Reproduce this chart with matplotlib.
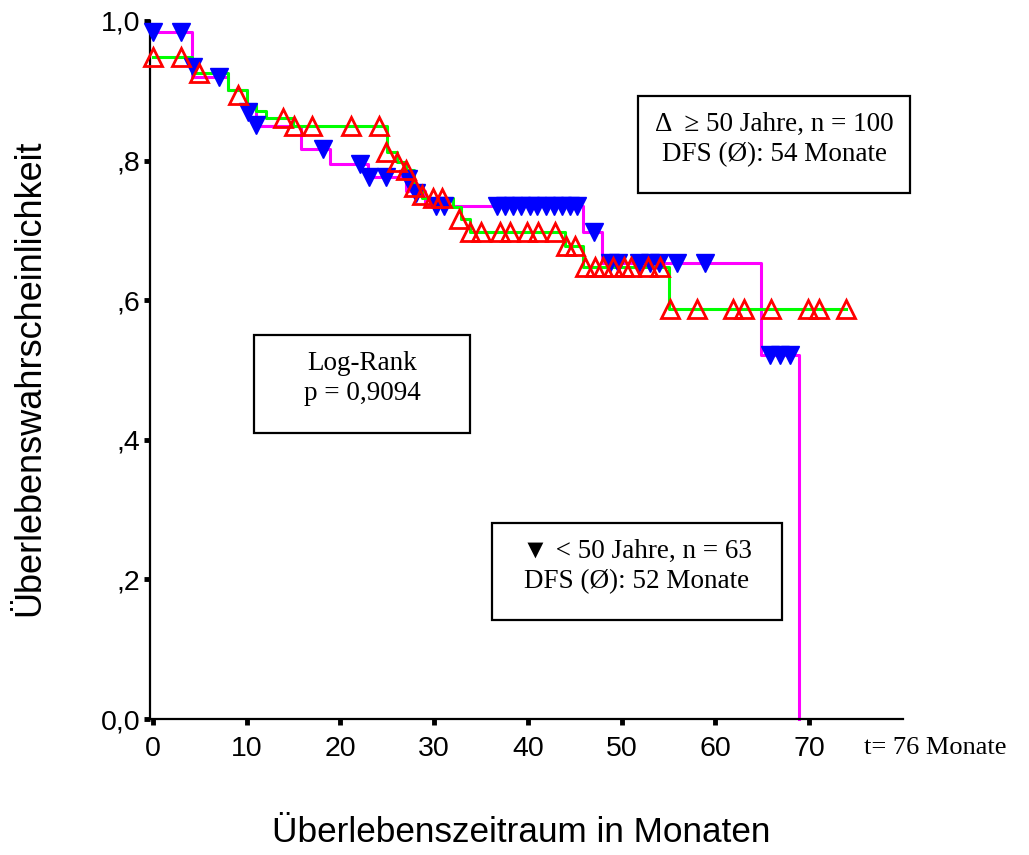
import matplotlib
matplotlib.use("Agg")
import matplotlib.pyplot as plt
from matplotlib.patches import Rectangle

# Kaplan-Meier steps, patients < 50 Jahre (n = 63)
young_t = [0, 4.2, 8.0, 10.0, 11.0, 15.8, 18.9, 23.0, 27.0, 29.0, 45.9, 47.9, 64.9, 68.9]
young_s = [0.984, 0.920, 0.901, 0.877, 0.849, 0.816, 0.795, 0.777, 0.757, 0.735, 0.698, 0.653, 0.522, 0.0]
# censored cases
young_ct = [0, 3.0, 4.3, 7.1, 10.1, 11.0, 18.1, 22.1, 23.1, 24.9, 27.2, 28.1, 30.2, 31.0,
            36.7, 37.6, 38.4, 39.3, 40.2, 41.0, 41.9, 42.8, 43.6, 44.5, 45.2,
            47.1, 48.8, 49.6, 51.9, 53.0, 54.0, 55.9, 58.9, 65.8, 66.9, 67.9]
young_cs = [0.984, 0.984, 0.934, 0.920, 0.870, 0.851, 0.816, 0.795, 0.777, 0.777, 0.774, 0.753, 0.735, 0.735,
            0.735, 0.735, 0.735, 0.735, 0.735, 0.735, 0.735, 0.735, 0.735, 0.735, 0.735,
            0.698, 0.653, 0.653, 0.653, 0.653, 0.653, 0.653, 0.653, 0.522, 0.522, 0.522]

# Kaplan-Meier steps, patients >= 50 Jahre (n = 100)
old_t = [0, 4.2, 8.0, 10.0, 11.0, 12.1, 14.9, 25.0, 26.0, 27.0, 27.9, 28.7, 32.0, 32.9, 33.8, 44.0, 45.9, 55.0, 73.9]
old_s = [0.949, 0.926, 0.901, 0.881, 0.871, 0.861, 0.850, 0.813, 0.798, 0.787, 0.762, 0.747, 0.733, 0.717, 0.698, 0.677, 0.648, 0.588, 0.588]
old_ct = [0, 3.0, 4.9, 9.1, 13.9, 15.1, 17.0, 21.1, 24.1, 24.9, 26.0, 27.0, 27.9, 28.7, 29.9, 30.8,
          32.7, 33.8, 35.0, 37.0, 38.1, 39.9, 41.1, 42.9, 44.1, 45.0,
          46.1, 47.2, 48.0, 49.1, 50.2, 51.0, 52.8, 54.1,
          55.1, 58.0, 61.9, 63.0, 65.9, 69.9, 71.0, 73.9]
old_cs = [0.949, 0.949, 0.926, 0.894, 0.861, 0.850, 0.850, 0.850, 0.850, 0.813, 0.798, 0.787, 0.762, 0.750, 0.747, 0.747,
          0.717, 0.698, 0.698, 0.698, 0.698, 0.698, 0.698, 0.698, 0.677, 0.677,
          0.648, 0.648, 0.648, 0.648, 0.648, 0.648, 0.648, 0.648,
          0.588, 0.588, 0.588, 0.588, 0.588, 0.588, 0.588, 0.588]

x_ticks = [0, 10, 20, 30, 40, 50, 60, 70]
y_ticks = [0.0, 0.2, 0.4, 0.6, 0.8, 1.0]
y_labels = ["0,0", ",2", ",4", ",6", ",8", "1,0"]

sans = ["Liberation Sans", "DejaVu Sans"]
serif = ["Liberation Serif", "DejaVu Serif", "DejaVu Sans"]

W, H = 1029, 855
fig = plt.figure(figsize=(W / 100, H / 100), dpi=100)
ax = fig.add_axes([150 / W, 136 / H, 753 / W, 698 / H])

ax.step(young_t, young_s, where="post", color="#ff00ff", lw=2.2, zorder=2, clip_on=False)
ax.step(old_t, old_s, where="post", color="#00ff00", lw=2.2, zorder=3, clip_on=False)
ax.plot(young_ct, young_cs, ls="none", marker="v", ms=13, color="#0000ff", mec="#0000ff",
        zorder=4, clip_on=False)
ax.plot(old_ct, old_cs, ls="none", marker="^", ms=12.5, mfc="none", mec="#ff0000", mew=2.0,
        zorder=5, clip_on=False)

ax.set_xlim(-0.3, 80)
ax.set_ylim(0, 1.0)
for s in ["top", "right"]:
    ax.spines[s].set_visible(False)
for s in ["left", "bottom"]:
    ax.spines[s].set_linewidth(1.6)

ax.set_xticks(x_ticks)
ax.set_xticklabels([str(v) for v in x_ticks], family=sans, fontsize=20.5)
ax.set_yticks(y_ticks)
ax.set_yticklabels(y_labels, family=sans, fontsize=20.5)
ax.tick_params(axis="x", length=4, width=3.5, pad=8, direction="out")
ax.tick_params(axis="y", length=4, width=3.5, pad=3, direction="out")

fig.text(521 / W, 1 - 832 / H, "Überlebenszeitraum in Monaten", family=sans, fontsize=25.3,
         ha="center", va="center")
fig.text(30 / W, 1 - 378 / H, "Überlebenswahrscheinlichkeit", family=sans, fontsize=26,
         rotation=90, ha="center", va="center")
fig.text(864 / W, 1 - 748 / H, "t= 76 Monate", family=serif, fontsize=19, ha="left", va="center")

# annotation boxes: (left, top, right, bottom) in pixels, then text lines
boxes = [
    ((638, 96, 910, 193), ["Δ  ≥ 50 Jahre, n = 100", "DFS (Ø): 54 Monate"]),
    ((254, 335, 470, 433), ["Log-Rank", "p = 0,9094"]),
    ((492, 523, 782, 620), ["▼ < 50 Jahre, n = 63", "DFS (Ø): 52 Monate"]),
]
for (l, t, r, b), lines in boxes:
    fig.patches.append(Rectangle((l / W, 1 - b / H), (r - l) / W, (b - t) / H,
                                 transform=fig.transFigure, fill=False, ec="black", lw=1.6))
    cx = (l + r) / 2 / W
    fig.text(cx, 1 - (t + 28) / H, lines[0], family=serif, fontsize=19.5, ha="center", va="center")
    fig.text(cx, 1 - (t + 59) / H, lines[1], family=serif, fontsize=19.5, ha="center", va="center")

fig.savefig("out.png", dpi=100)
